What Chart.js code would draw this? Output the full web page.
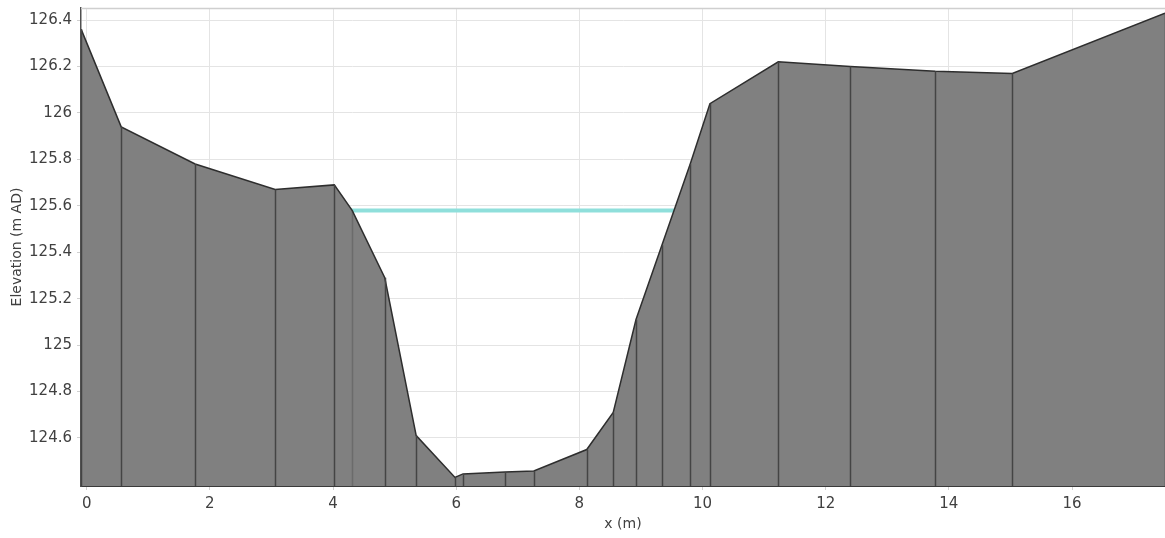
<!DOCTYPE html>
<html>
<head>
<meta charset="utf-8">
<script src="https://cdn.jsdelivr.net/npm/chart.js@4/dist/chart.umd.min.js"></script>
<style>
  html, body { margin: 0; padding: 0; background: #ffffff; }
  #wrap { width: 1165px; height: 538px; position: relative; }
</style>
</head>
<body>
<div id="wrap"><canvas id="section" width="1165" height="538"></canvas></div>
<script>
// Surveyed cross-section: chainage across the channel (m) and bed elevation (m AD)
const stationX = [-0.09, 0.56, 1.76, 3.06, 4.02, 4.31, 4.84, 5.35, 5.98, 6.11, 6.79, 7.26,
                  8.12, 8.55, 8.92, 9.34, 9.80, 10.12, 11.23, 12.40, 13.78, 15.03, 17.51];
const bedLevel = [126.36, 125.94, 125.78, 125.67, 125.69, 125.58, 125.29, 124.61, 124.43, 124.445, 124.453, 124.458,
                  124.55, 124.71, 125.11, 125.43, 125.78, 126.04, 126.22, 126.20, 126.18, 126.17, 126.43];

// Water surface level and its wetted extent between the banks
const waterLevel = 125.58;
const waterExtent = [4.28, 9.56];

// Axis ranges and tick labels
const xRange = [-0.093, 17.51];
const yRange = [124.393, 126.452];
const xTickValues = [0, 2, 4, 6, 8, 10, 12, 14, 16];
const yTickValues = [124.6, 124.8, 125.0, 125.2, 125.4, 125.6, 125.8, 126.0, 126.2, 126.4];

const groundPoints = stationX.map((x, i) => ({ x, y: bedLevel[i] }));
const waterPoints = waterExtent.map(x => ({ x, y: waterLevel }));

const tickFont = { family: 'DejaVu Sans', size: 15 };
const textColor = '#404040';

// Vertical panel dividers dropped from each survey point to the base of the plot,
// plus a light frame line along the top of the plot area.
const sectionLines = {
  id: 'sectionLines',
  beforeDatasetsDraw(chart) {
    const { ctx, chartArea } = chart;
    ctx.save();
    ctx.strokeStyle = '#cfcfcf';
    ctx.lineWidth = 1.5;
    ctx.beginPath();
    ctx.moveTo(chartArea.left, chartArea.top + 0.5);
    ctx.lineTo(chartArea.right, chartArea.top + 0.5);
    ctx.stroke();
    ctx.restore();
  },
  afterDatasetsDraw(chart) {
    const { ctx, chartArea, scales: { x, y } } = chart;
    ctx.save();
    ctx.beginPath();
    ctx.rect(chartArea.left, chartArea.top, chartArea.right - chartArea.left, chartArea.bottom - chartArea.top);
    ctx.clip();
    ctx.lineWidth = 1.5;
    stationX.forEach((sx, i) => {
      const px = Math.round(x.getPixelForValue(sx)) + 0.5;
      const py = y.getPixelForValue(bedLevel[i]);
      ctx.strokeStyle = bedLevel[i] === waterLevel ? 'rgba(60,60,60,0.3)' : '#444444';
      ctx.beginPath();
      ctx.moveTo(px, py);
      ctx.lineTo(px, chartArea.bottom);
      ctx.stroke();
    });
    ctx.restore();
  }
};

new Chart(document.getElementById('section'), {
  type: 'scatter',
  data: {
    datasets: [
      {
        label: 'Bed',
        data: groundPoints,
        showLine: true,
        fill: 'start',
        backgroundColor: '#808080',
        borderColor: '#2e2e2e',
        borderWidth: 1.5,
        pointRadius: 0,
        tension: 0
      },
      {
        label: 'Water level',
        data: waterPoints,
        showLine: true,
        fill: false,
        borderColor: '#8fdfdb',
        borderWidth: 4,
        pointRadius: 0
      }
    ]
  },
  options: {
    responsive: false,
    devicePixelRatio: 1,
    animation: false,
    layout: { padding: { top: 8, right: 0, left: 0, bottom: 0 } },
    plugins: {
      legend: { display: false },
      tooltip: { enabled: false }
    },
    scales: {
      x: {
        type: 'linear',
        min: xRange[0],
        max: xRange[1],
        afterBuildTicks: s => { s.ticks = xTickValues.map(v => ({ value: v })); },
        afterFit: s => { s.height = 52; s.paddingLeft = 0; s.paddingRight = 0; },
        grid: { color: '#e4e4e4', lineWidth: 1, tickLength: 4, tickColor: '#d0d0d0' },
        border: { display: true, color: '#3a3a3a', width: 2 },
        ticks: {
          font: tickFont,
          color: textColor,
          padding: 5,
          maxRotation: 0,
          callback: v => String(v)
        },
        title: {
          display: true,
          text: 'x (m)',
          font: { family: 'DejaVu Sans', size: 14 },
          color: textColor,
          padding: { top: 0, bottom: 5 }
        }
      },
      y: {
        type: 'linear',
        min: yRange[0],
        max: yRange[1],
        afterBuildTicks: s => { s.ticks = yTickValues.map(v => ({ value: v })); },
        afterFit: s => { s.width = 81; s.paddingTop = 0; s.paddingBottom = 0; },
        grid: { color: '#e4e4e4', lineWidth: 1, tickLength: 4, tickColor: '#d0d0d0' },
        border: { display: true, color: '#505050', width: 1.5 },
        ticks: {
          font: tickFont,
          color: textColor,
          padding: 5,
          callback: v => String(Number(v.toFixed(1)))
        },
        title: {
          display: true,
          text: 'Elevation (m AD)',
          font: { family: 'DejaVu Sans', size: 14 },
          color: textColor,
          padding: { top: 9, bottom: 0 }
        }
      }
    }
  },
  plugins: [sectionLines]
});
</script>
</body>
</html>
